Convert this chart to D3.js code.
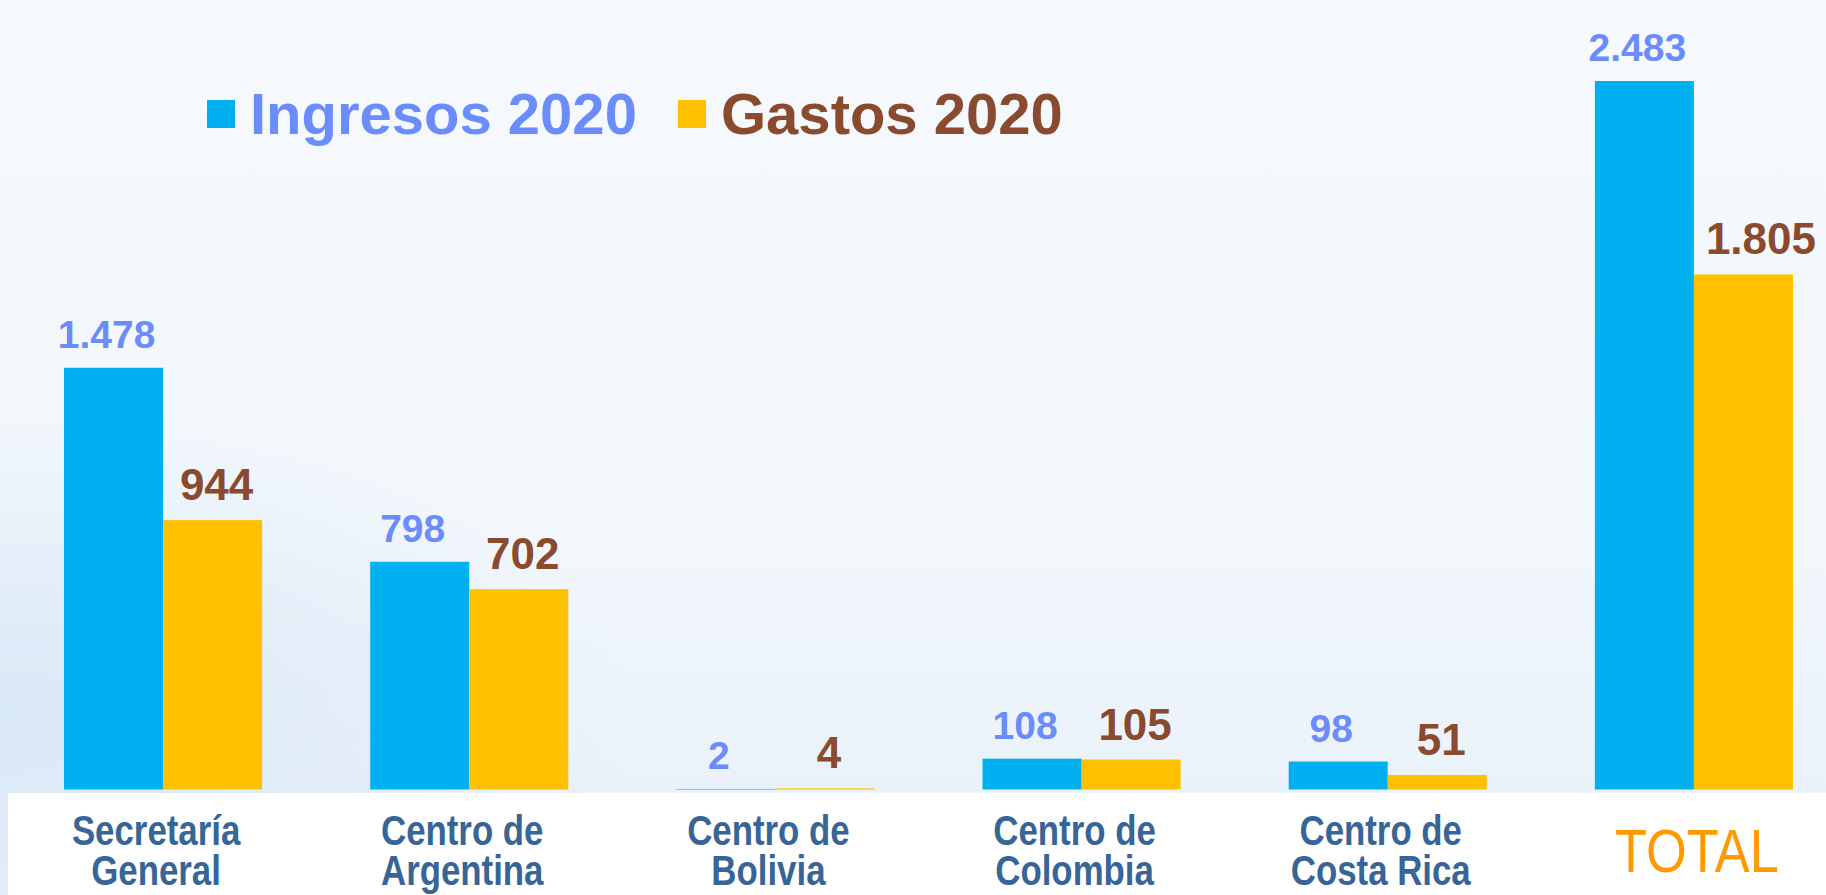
<!DOCTYPE html>
<html>
<head>
<meta charset="utf-8">
<script src="https://cdn.jsdelivr.net/npm/d3@7"></script>
<style>
  body { margin: 0; overflow: hidden; background: #f3f7fc; }
</style>
</head>
<body>
<div id="chart"></div>
<script>
// values (thousands)
const categories = ["Secretaría\nGeneral", "Centro de\nArgentina", "Centro de\nBolivia",
    "Centro de\nColombia", "Centro de\nCosta Rica", "TOTAL"];
const series = ["Ingresos 2020", "Gastos 2020"];
const ingresos = [1478, 798, 2, 108, 98, 2483];
const gastos = [944, 702, 4, 105, 51, 1805];

const width = 1826;
const height = 895;
const baseline = 789.5;

const barColors = ["#00b0f0", "#ffc000"];
const labelColors = ["#6b8cfb", "#8a4a2e"];

const rows = categories.map((c, i) => ({
    category: c,
    values: [ingresos[i], gastos[i]]
}));

const fmt = d3.formatLocale({ decimal: ",", thousands: ".", grouping: [3], currency: ["", ""] }).format(",d");

const svg = d3.select("#chart")
    .append("svg")
    .attr("width", width)
    .attr("height", height)
    .style("font-family", "'Liberation Sans', Arial, sans-serif");

// soft light-blue background
const defs = svg.append("defs");
const bg = defs.append("linearGradient")
    .attr("id", "bg")
    .attr("x1", 0).attr("y1", 0).attr("x2", 0).attr("y2", 1);
bg.append("stop").attr("offset", "0%").attr("stop-color", "#f6f9fd");
bg.append("stop").attr("offset", "60%").attr("stop-color", "#f2f7fc");
bg.append("stop").attr("offset", "100%").attr("stop-color", "#e6eff9");
const glow = defs.append("radialGradient")
    .attr("id", "glow")
    .attr("cx", 0).attr("cy", 0.8).attr("r", 0.35);
glow.append("stop").attr("offset", "0%").attr("stop-color", "#d9e8f6").attr("stop-opacity", 1);
glow.append("stop").attr("offset", "100%").attr("stop-color", "#d9e8f6").attr("stop-opacity", 0);

svg.append("rect").attr("width", width).attr("height", height).attr("fill", "url(#bg)");
svg.append("rect").attr("width", width).attr("height", height).attr("fill", "url(#glow)");

const x0 = d3.scaleBand()
    .domain(categories)
    .range([10, 1847])
    .paddingInner(0.353)
    .paddingOuter(0.1765);

const x1 = d3.scaleBand()
    .domain(series)
    .range([0, x0.bandwidth()]);

const y = d3.scaleLinear()
    .domain([0, d3.max(ingresos.concat(gastos))])
    .range([baseline, 81]);

const groups = svg.selectAll("g.group")
    .data(rows)
    .enter()
    .append("g")
    .attr("class", "group")
    .attr("transform", d => `translate(${x0(d.category)},0)`);

groups.selectAll("rect")
    .data(d => d.values.map((v, j) => ({ series: series[j], value: v, j })))
    .enter()
    .append("rect")
    .attr("x", d => x1(d.series))
    .attr("y", d => y(d.value))
    .attr("width", x1.bandwidth())
    .attr("height", d => baseline - y(d.value))
    .attr("fill", d => barColors[d.j]);

// value labels
groups.selectAll("text.value")
    .data(d => d.values.map((v, j) => ({ series: series[j], value: v, j })))
    .enter()
    .append("text")
    .attr("class", "value")
    .attr("x", d => x1(d.series) + x1.bandwidth() / 2 + (d.j === 0 ? -7 : 4))
    .attr("y", d => y(d.value) - 20)
    .attr("text-anchor", "middle")
    .style("font-weight", "bold")
    .style("font-size", d => d.j === 0 ? "39px" : "44px")
    .attr("fill", d => labelColors[d.j])
    .text(d => fmt(d.value))
    .each(function (d) {
        // keep the gastos label clear of the neighbouring ingresos bar
        if (d.j === 1) {
            const box = this.getBBox();
            const minX = x1(d.series) + 12;
            if (box.x < minX) {
                d3.select(this).attr("x", +d3.select(this).attr("x") + (minX - box.x));
            }
        }
    });

// white band for category labels
svg.append("rect")
    .attr("x", 8)
    .attr("y", 793)
    .attr("width", width - 8)
    .attr("height", height - 793)
    .attr("fill", "#ffffff");

const catLabels = svg.selectAll("g.cat")
    .data(categories)
    .enter()
    .append("g")
    .attr("class", "cat")
    .attr("transform", d => `translate(${x0(d) + x0.bandwidth() / 2 + (d === "TOTAL" ? 3 : -7)},0)`);

catLabels.each(function (d) {
    const g = d3.select(this);
    if (d === "TOTAL") {
        g.append("text")
            .attr("transform", "translate(0,872) scale(0.845,1)")
            .attr("text-anchor", "middle")
            .style("font-size", "62px")
            .attr("fill", "#ff9900")
            .text(d);
    } else {
        d.split("\n").forEach((line, k) => {
            g.append("text")
                .attr("transform", `translate(0,${845 + k * 40}) scale(0.81,1)`)
                .attr("text-anchor", "middle")
                .style("font-size", "43px")
                .style("font-weight", "bold")
                .attr("fill", "#376597")
                .text(line);
        });
    }
});

// legend
const legendPos = [207, 678];
const legend = svg.selectAll("g.legend")
    .data(series)
    .enter()
    .append("g")
    .attr("class", "legend")
    .attr("transform", (d, i) => `translate(${legendPos[i]},100)`);

legend.append("rect")
    .attr("width", 28)
    .attr("height", 28)
    .attr("fill", (d, i) => barColors[i]);

legend.append("text")
    .attr("x", 43)
    .attr("y", 34)
    .style("font-size", "58px")
    .style("font-weight", "bold")
    .attr("fill", (d, i) => labelColors[i])
    .text(d => d);
</script>
</body>
</html>
